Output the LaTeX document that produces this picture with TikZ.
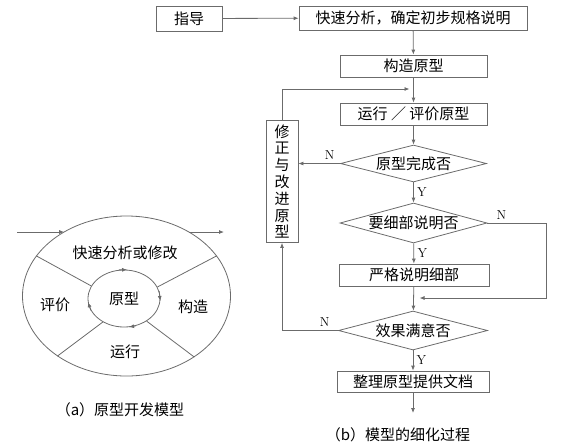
\documentclass[tikz,border=0pt]{standalone}
\usepackage{fontspec}
\newfontfamily\cjk{Noto Sans CJK SC}
\usetikzlibrary{shapes.geometric,arrows.meta}
\definecolor{linegray}{gray}{0.42}
\tikzset{
  cjktext/.style={font=\cjk\fontsize{15}{17}\selectfont},
  box/.style={cjktext, draw=linegray, line width=0.8pt, inner sep=0pt, minimum height=22pt},
  decision/.style={cjktext, draw=linegray, line width=0.8pt, diamond, aspect=3.8, inner sep=0pt},
  flow/.style={draw=linegray, line width=0.8pt, -{Latex[length=5pt,width=4pt]}},
  yn/.style={font=\fontsize{13}{13}\selectfont}
}

\begin{document}
\begin{tikzpicture}[x=1pt,y=-1pt]
  \useasboundingbox (0,0) rectangle (580,445);

  % (a) Prototype cycle: outer oval and inner loop
  \node[draw=linegray, line width=0.8pt, ellipse, minimum width=208pt, minimum height=160pt] (cycle) at (126.5,296) {};
  \node[cjktext, draw=linegray, line width=0.8pt, ellipse, minimum width=72pt, minimum height=57pt, inner sep=0pt] (proto) at (124,298.5) {原型};

  % Spokes between the two ovals
  \draw[linegray, line width=0.8pt] (cycle.156) -- (proto.159);
  \draw[linegray, line width=0.8pt] (cycle.24) -- (proto.19);
  \draw[linegray, line width=0.8pt] (cycle.221) -- (proto.228);
  \draw[linegray, line width=0.8pt] (cycle.318) -- (proto.315);

  % Clockwise arrow tips on the inner loop
  \draw[flow] (proto.100) -- (proto.84);
  \draw[flow] (proto.12) -- (proto.-4);
  \draw[flow] (proto.-66) -- (proto.-80);
  \draw[flow] (proto.200) -- (proto.186);

  % Phase labels
  \node[cjktext] (quick) at (125,253) {快速分析或修改};
  \node[cjktext] (assess) at (55,305) {评价};
  \node[cjktext] (make) at (193,307) {构造};
  \node[cjktext] (use) at (125,352) {运行};

  % Entry and exit arrows
  \coordinate (in) at (17,232);
  \coordinate (out) at (224,232);
  \draw[flow] (in) -- (cycle.134 |- in);
  \draw[flow] (cycle.46 |- out) -- (out);

  \node[cjktext] (capA) at (120,410) {（a）原型开发模型};

  % (b) Refinement flow
  \node[box, minimum width=66pt, minimum height=25pt] (guide) at (189,18.5) {指导};
  \node[box, minimum width=228pt, minimum height=24pt] (analyse) at (413,18) {快速分析，确定初步规格说明};
  \node[box, minimum width=147pt] (construct) at (413.5,66) {构造原型};
  \node[box, minimum width=147pt] (evaluate) at (413.5,114) {运行 ／ 评价原型};
  \node[box, minimum width=32pt, minimum height=122pt, align=center,
        font=\cjk\fontsize{15}{16.8}\selectfont] (revise) at (282,181.5) {修\\正\\与\\改\\进\\原\\型};
  \node[decision, minimum width=146pt, minimum height=37pt] (done) at (413.5,163.5) {原型完成否};
  \node[decision, minimum width=147pt, minimum height=40pt] (detail) at (413.5,223) {要细部说明否};
  \node[box, minimum width=150pt] (strict) at (414,275) {严格说明细部};
  \node[decision, minimum width=149pt, minimum height=39pt] (satisfied) at (413,330.5) {效果满意否};
  \node[box, minimum width=152pt, minimum height=21pt] (document) at (413,381.5) {整理原型提供文档};

  % Helper points
  \coordinate (rejoin) at (413.5,89);
  \coordinate (bypass) at (546,298);
  \coordinate (merge) at (413.5,298);
  \coordinate (finish) at (413,413);

  % Connectors
  \draw[flow] (guide) -- (analyse);
  \draw[flow] (analyse) -- (construct);
  \draw[flow] (construct) -- (evaluate);
  \draw[flow, shorten >=4pt] (revise.north) |- (rejoin);
  \draw[flow] (evaluate) -- (done);
  \draw[flow] (done.west) -- node[yn, above, pos=0.25] {N} (done.west -| revise.east);
  \draw[flow] (done) -- node[yn, right] {Y} (detail);
  \draw[flow] (detail) -- node[yn, right] {Y} (strict);
  \draw[flow, shorten >=6pt] (detail.east) -| node[yn, above, pos=0.12] {N} (bypass) -- (merge);
  \draw[flow] (strict) -- (satisfied);
  \draw[flow] (satisfied.west) -| node[yn, above, pos=0.12] {N} (revise.south);
  \draw[flow] (satisfied) -- node[yn, right] {Y} (document);
  \draw[flow] (document) -- (finish);

  \node[cjktext] (capB) at (398,435) {（b）模型的细化过程};
\end{tikzpicture}
\end{document}
